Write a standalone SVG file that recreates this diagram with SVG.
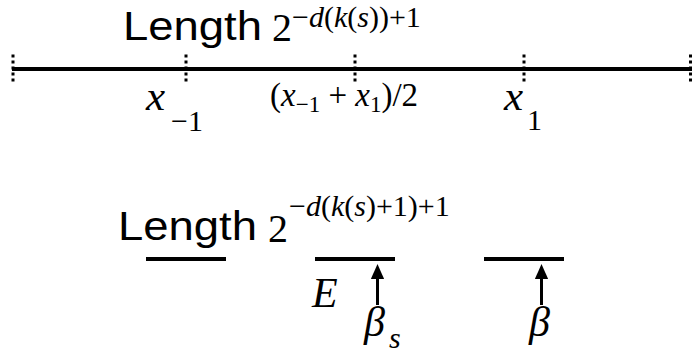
<svg xmlns="http://www.w3.org/2000/svg" width="692" height="356" viewBox="0 0 692 356">
<style>
.sans{font-family:"Liberation Sans",Arial,sans-serif;fill:#000}
.serif{font-family:"Liberation Serif","Times New Roman",serif;fill:#000}
.it{font-style:italic}
.bar{stroke:#000;stroke-width:4;fill:none}
.tick{stroke:#000;stroke-width:3;stroke-dasharray:3 3;fill:none}
.shaft{stroke:#000;stroke-width:3;fill:none}
</style>
<defs>
<marker id="ah" markerWidth="5" markerHeight="4.4" refX="1" refY="2.2" orient="auto" markerUnits="strokeWidth">
<path d="M0,0 L5,2.2 L0,4.4 Z" fill="#000"/>
</marker>
</defs>
<g id="title1">
<text class="sans" x="123" y="40" font-size="40" textLength="139" lengthAdjust="spacingAndGlyphs">Length</text>
<text class="serif" x="272" y="41" font-size="40">2</text>
<text class="serif" x="292" y="27" font-size="30">−<tspan class="it">d</tspan>(<tspan class="it">k</tspan>(<tspan class="it">s</tspan>))+1</text>
</g>
<g id="axis">
<line class="bar" x1="12" y1="69" x2="692" y2="69" stroke-width="3"/>
<line class="tick" x1="13" y1="54.5" x2="13" y2="84"/>
<line class="tick" x1="186" y1="54.5" x2="186" y2="84"/>
<line class="tick" x1="355" y1="54.5" x2="355" y2="84"/>
<line class="tick" x1="524" y1="54.5" x2="524" y2="84"/>
<line class="tick" x1="690.5" y1="54.5" x2="690.5" y2="84"/>
</g>
<g id="label-xm1">
<text class="serif it" x="146" y="110" font-size="43">x</text>
<text class="serif" x="171" y="131" font-size="30">−1</text>
</g>
<g id="label-mid">
<text class="serif" x="270" y="106" font-size="33">(<tspan class="it">x</tspan><tspan font-size="23" dy="6">−1</tspan><tspan dy="-6"> + </tspan><tspan class="it">x</tspan><tspan font-size="23" dy="6">1</tspan><tspan dy="-6">)/2</tspan></text>
</g>
<g id="label-x1">
<text class="serif it" x="504" y="110" font-size="43">x</text>
<text class="serif" x="527" y="130" font-size="30">1</text>
</g>
<g id="title2">
<text class="sans" x="118" y="240" font-size="40" textLength="139" lengthAdjust="spacingAndGlyphs">Length</text>
<text class="serif" x="268" y="242" font-size="40">2</text>
<text class="serif" x="289" y="216" font-size="30">−<tspan class="it">d</tspan>(<tspan class="it">k</tspan>(<tspan class="it">s</tspan>)+1)+1</text>
</g>
<g id="segments">
<line class="bar" x1="146" y1="259" x2="226" y2="259"/>
<line class="bar" x1="315" y1="259" x2="395" y2="259"/>
<line class="bar" x1="484" y1="259" x2="564" y2="259"/>
</g>
<g id="connectors">
<line class="shaft" x1="377.5" y1="305" x2="377.5" y2="276" marker-end="url(#ah)"/>
<line class="shaft" x1="541.5" y1="305" x2="541.5" y2="276" marker-end="url(#ah)"/>
</g>
<g id="label-E"><text class="serif it" x="312" y="307" font-size="42">E</text></g>
<g id="label-betas">
<text class="serif it" x="364" y="336" font-size="42">β</text>
<text class="serif it" x="389" y="348" font-size="30">s</text>
</g>
<g id="label-beta"><text class="serif it" x="529" y="336" font-size="42">β</text></g>
</svg>
